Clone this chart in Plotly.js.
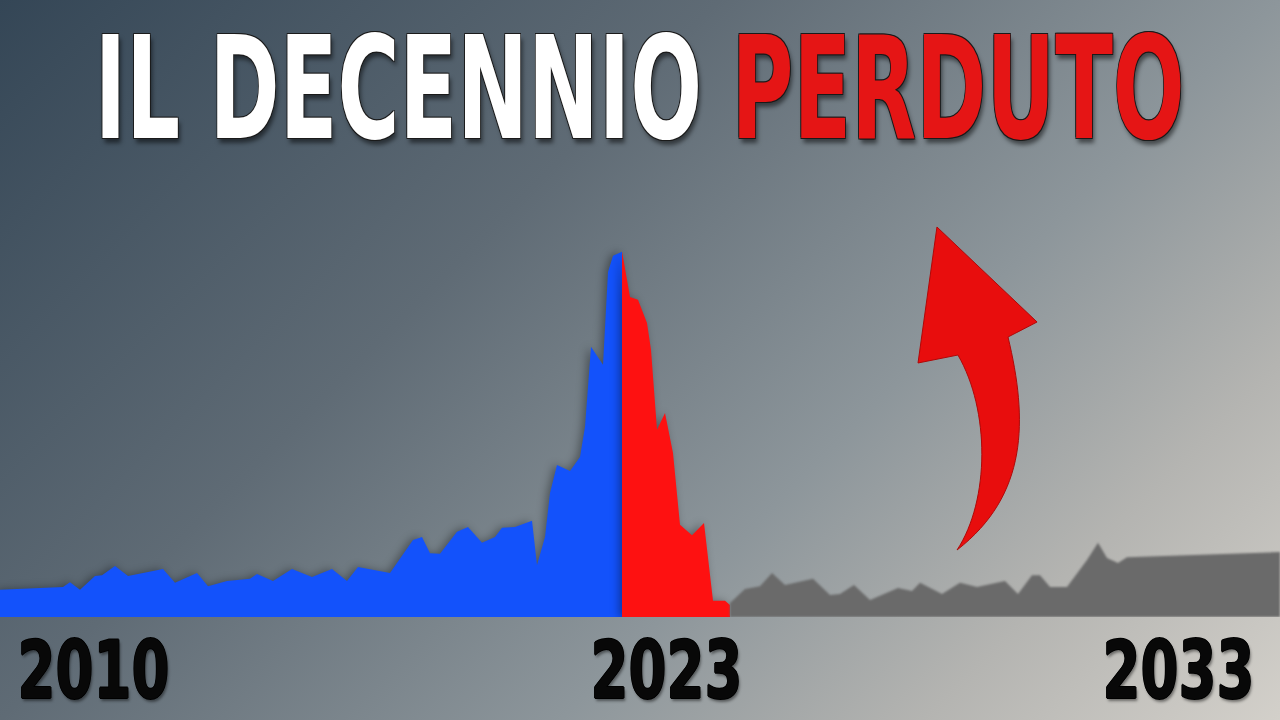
<!DOCTYPE html>
<html>
<head>
<meta charset="utf-8">
<script src="https://cdn.plot.ly/plotly-3.0.1.min.js"></script>
<style>
  html, body { margin: 0; padding: 0; width: 1280px; height: 720px; overflow: hidden; }
  body {
    background: linear-gradient(135deg, #344656 0%, #5f6b75 36%, #8d969b 64%, #b4b4b1 82%, #d3d0ca 100%);
  }
  #chart { width: 1280px; height: 720px; }
  .scatterlayer .trace:nth-child(1) .js-fill,
  .scatterlayer .trace:nth-child(2) .js-fill { filter: drop-shadow(-3px 0px 4px rgba(0,0,0,0.35)); }
  .scatterlayer .trace:nth-child(3) .js-fill { filter: blur(1.2px); }
</style>
</head>
<body>
<div id="chart"></div>
<script>
// time index (arbitrary periods) and index values
const blueT = [0, 6.3, 7.0, 8.0, 9.5, 10.2, 11.5, 12.8, 16.3, 17.5, 19.7, 20.8, 22.7, 25.0, 25.7, 27.3, 29.2, 31.2, 33.2, 34.7, 35.8, 39.0, 41.3, 42.2, 43.0, 44.0, 45.7, 46.8, 48.2, 49.5, 50.2, 51.5, 53.2, 53.7, 54.5, 55.0, 55.7, 57.0, 58.0, 58.5, 59.1, 60.3, 60.8, 61.3, 62.2];
const blueV = [7.4, 8.2, 9.5, 7.4, 11.2, 11.4, 13.9, 11.2, 13.1, 9.3, 12.0, 8.4, 9.8, 10.4, 11.7, 9.8, 13.1, 10.9, 13.1, 9.8, 13.6, 12.0, 21.0, 21.8, 17.4, 17.2, 23.2, 24.5, 20.2, 21.8, 24.3, 24.5, 26.2, 14.2, 21.8, 33.8, 41.4, 39.8, 43.6, 51.8, 73.6, 68.7, 94.0, 98.4, 99.5];

const redT = [62.2, 62.3, 63.0, 63.8, 64.7, 65.1, 65.7, 66.5, 67.3, 68.0, 69.2, 70.4, 71.3, 72.5, 73.0];
const redV = [99.5, 98.1, 87.2, 86.4, 80.1, 72.8, 51.0, 55.6, 44.7, 25.1, 22.3, 25.6, 4.4, 4.4, 3.3];

const grayT = [73.0, 74.5, 76.0, 77.2, 78.5, 81.3, 83.0, 84.0, 85.4, 87.0, 89.8, 91.2, 92.0, 94.2, 96.0, 97.7, 100.5, 101.8, 103.2, 104.0, 105.0, 106.7, 108.7, 109.8, 110.7, 111.8, 112.7, 124.2, 128.0];
const grayV = [3.8, 7.6, 8.4, 12.0, 8.7, 10.4, 6.0, 6.3, 8.7, 4.6, 7.9, 7.1, 9.3, 6.3, 9.3, 8.2, 9.8, 6.3, 11.4, 11.4, 8.2, 8.2, 15.5, 20.2, 16.1, 14.7, 16.3, 17.4, 17.7];

const tickPos = [9.35, 66.65, 117.85];
const tickText = ['2010', '2023', '2033'];

const titleWhite = 'IL DECENNIO';
const titleRed = 'PERDUTO';

const boldFont = '"DejaVu Sans", "Liberation Sans", sans-serif';

const traces = [
  { x: blueT, y: blueV, type: 'scatter', mode: 'lines', fill: 'tozeroy',
    line: { color: '#1352fb', width: 0 }, fillcolor: '#1352fb', hoverinfo: 'skip' },
  { x: redT, y: redV, type: 'scatter', mode: 'lines', fill: 'tozeroy',
    line: { color: '#fe1111', width: 0 }, fillcolor: '#fe1111', hoverinfo: 'skip' },
  { x: grayT, y: grayV, type: 'scatter', mode: 'lines', fill: 'tozeroy',
    line: { color: '#6a6a6a', width: 0 }, fillcolor: '#6a6a6a', hoverinfo: 'skip' }
];

const layout = {
  width: 1280, height: 720,
  margin: { l: 0, r: 0, t: 0, b: 103, pad: 0 },
  paper_bgcolor: 'rgba(0,0,0,0)',
  plot_bgcolor: 'rgba(0,0,0,0)',
  showlegend: false,
  xaxis: {
    range: [0, 128], showgrid: false, zeroline: false, showline: false,
    tickvals: tickPos, ticktext: tickText, ticks: '', ticklabelstandoff: 0,
    ticklabeloverflow: 'allow',
    tickfont: { family: boldFont, size: 80, color: '#080808', weight: 700,
                shadow: '1px 0 0 #000, -1px 0 0 #000, 0 1px 0 #000, 0 -1px 0 #000, 2px 3px 3px rgba(0,0,0,0.45)' },
    fixedrange: true
  },
  yaxis: {
    range: [0, 168.1], showgrid: false, zeroline: false, showline: false,
    showticklabels: false, fixedrange: true
  },
  annotations: [
    { xref: 'paper', yref: 'paper', x: 0.5, y: 1 - 88 / 617, xanchor: 'center', yanchor: 'middle',
      showarrow: false,
      text: titleWhite + ' <span style="color:#e51515">' + titleRed + '</span>',
      font: { family: boldFont, size: 143, color: '#ffffff', weight: 700,
              shadow: '-1px -1px 0 #1a1a1a, 1px -1px 0 #1a1a1a, -1px 1px 0 #1a1a1a, 1px 1px 0 #1a1a1a, 3px 4px 5px rgba(0,0,0,0.5)' } }
  ],
  shapes: [
    { type: 'path', xref: 'paper', yref: 'paper', layer: 'above',
      path: 'M 0.7320 0.6321 L 0.8102 0.4781 L 0.7875 0.4538 C 0.8031 0.3193 0.8031 0.1977 0.7477 0.1086 C 0.7734 0.1896 0.7734 0.3355 0.7484 0.4246 L 0.7172 0.4117 Z',
      fillcolor: '#e80d0d', line: { color: '#b00808', width: 1 } }
  ]
};

function squeeze(el, targetWidth) {
  const bb = el.getBBox();
  if (!bb.width) return;
  const s = targetWidth / bb.width;
  const cx = bb.x + bb.width / 2;
  const prev = el.getAttribute('transform') || '';
  el.setAttribute('transform', prev + ' translate(' + cx + ',0) scale(' + s + ',1) translate(' + (-cx) + ',0)');
}

Plotly.newPlot('chart', traces, layout, { displayModeBar: false, staticPlot: true }).then(function (gd) {
  const t = gd.querySelector('.annotation-text');
  if (t) squeeze(t, 1090);
  gd.querySelectorAll('.xtick text').forEach(function (el) { squeeze(el, 152); });
});
</script>
</body>
</html>
